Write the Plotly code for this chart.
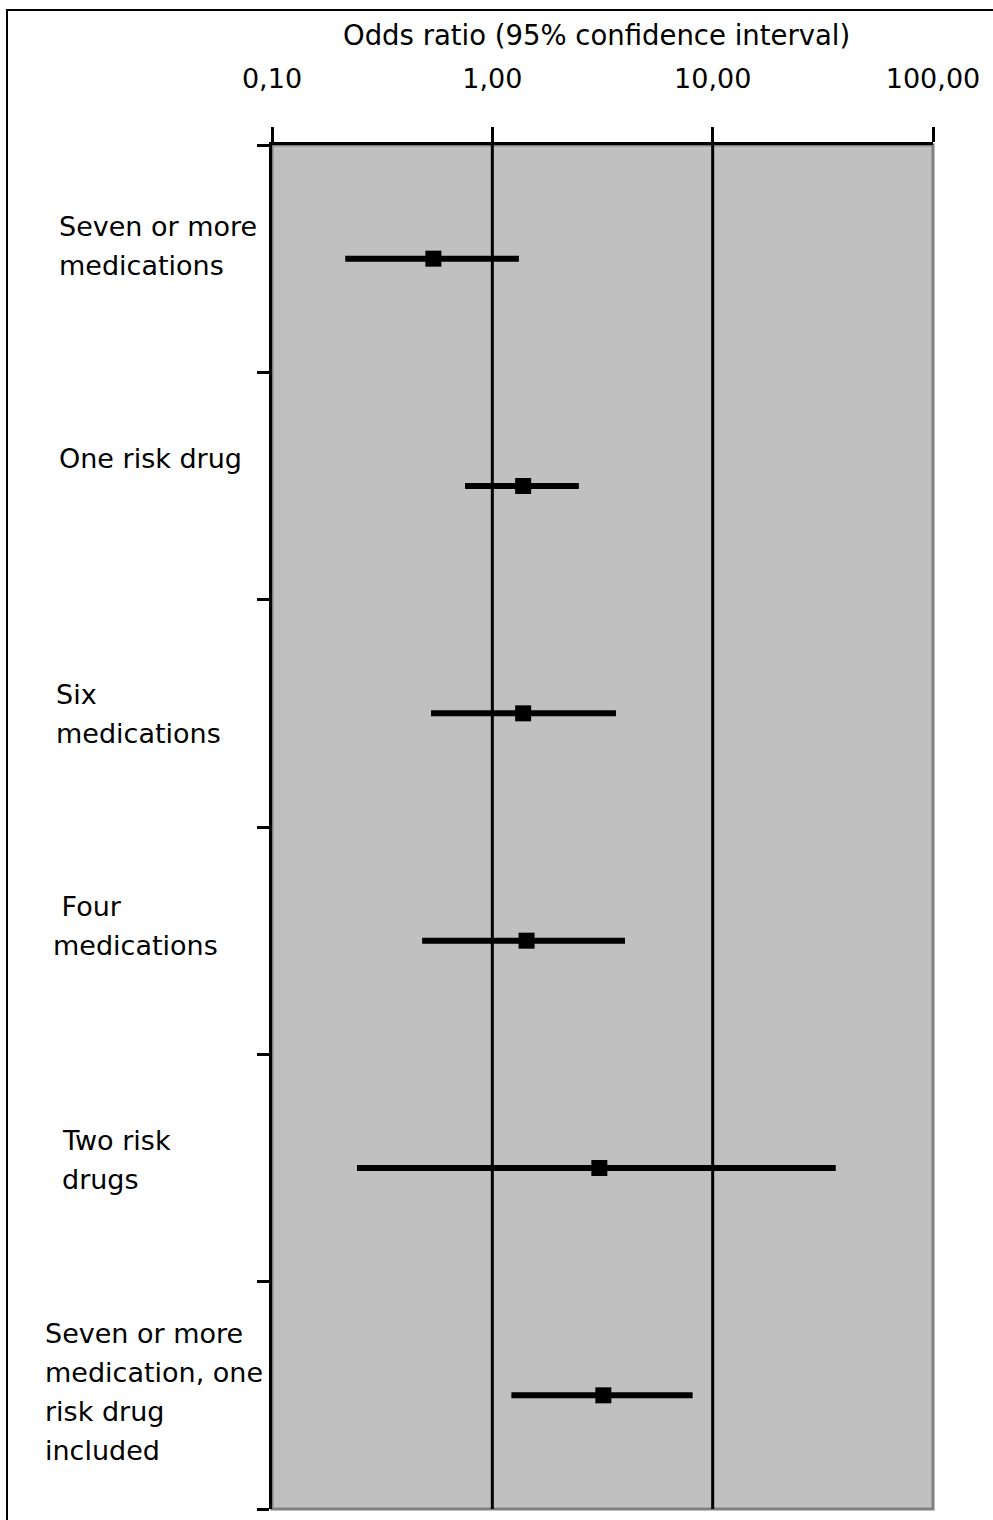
import plotly.graph_objects as go

# ---- data ----
categories = [
    "Seven or more medications",
    "One risk drug",
    "Six medications",
    "Four medications",
    "Two risk drugs",
    "Seven or more medication, one risk drug included",
]
label_lines = [
    ["Seven or more", "medications"],
    ["One risk drug"],
    ["Six", "medications"],
    ["\u00a0Four", "medications"],
    ["Two risk", "drugs"],
    ["Seven or more", "medication, one", "risk drug", "included"],
]
odds_ratio = [0.54, 1.38, 1.38, 1.43, 3.06, 3.19]
ci_low = [0.215, 0.752, 0.527, 0.480, 0.243, 1.22]
ci_high = [1.32, 2.47, 3.64, 4.00, 36.2, 8.11]
tick_vals = [0.1, 1, 10, 100]
tick_text = ["0,10", "1,00", "10,00", "100,00"]
ref_lines = [1, 10]

# ---- layout helpers ----
W, H = 993, 1520
ML, MR, MT, MB = 272, 60, 145, 11
PW, PH = W - ML - MR, H - MT - MB
FONT = "DejaVu Sans"
FS = 27

n = len(categories)
row_y = [n - i - 0.5 for i in range(n)]

label_x_px = [57, 57, 54, 51, 60, 43]
first_line_offset = [-32.5, -28, -19, -34.5, -28, -61.5]
line_gap = 39

fig = go.Figure()
fig.add_trace(go.Scatter(
    x=odds_ratio,
    y=row_y,
    mode="markers",
    marker=dict(symbol="square", size=16, color="black"),
    error_x=dict(
        type="data",
        symmetric=False,
        array=[h - o for h, o in zip(ci_high, odds_ratio)],
        arrayminus=[o - l for o, l in zip(odds_ratio, ci_low)],
        thickness=6,
        width=0,
        color="black",
    ),
    hovertext=categories,
    showlegend=False,
))

shapes = []
# plot area gray border
shapes.append(dict(type="rect", xref="paper", yref="paper", x0=0, x1=1, y0=0, y1=1,
                   line=dict(color="#808080", width=3), layer="below"))
# vertical reference lines
for v in ref_lines:
    shapes.append(dict(type="line", xref="x", yref="paper", x0=v, x1=v, y0=0, y1=1,
                       line=dict(color="black", width=3), layer="below"))
# outer frame
shapes.append(dict(type="rect", xref="paper", yref="paper",
                   x0=(7 - ML) / PW, x1=(W + 20 - ML) / PW,
                   y0=-(H + 20 - MT - PH) / PH, y1=1 + (MT - 10) / PH,
                   line=dict(color="black", width=2)))

annotations = []
annotations.append(dict(text="Odds ratio (95% confidence interval)", xref="paper", yref="paper",
                        x=(596 - ML) / PW, y=1 + (MT - 35) / PH, xanchor="center", yanchor="middle",
                        showarrow=False, font=dict(family=FONT, size=FS + 0.5, color="black")))
for i, lines in enumerate(label_lines):
    for j, t in enumerate(lines):
        annotations.append(dict(
            text=t, xref="paper", yref="y",
            x=(label_x_px[i] - ML) / PW, y=row_y[i],
            yshift=-(first_line_offset[i] + j * line_gap),
            xanchor="left", yanchor="middle", showarrow=False,
            font=dict(family=FONT, size=FS, color="black"),
        ))

fig.update_layout(
    width=W, height=H,
    margin=dict(l=ML, r=MR, t=MT, b=MB, pad=0),
    paper_bgcolor="white",
    plot_bgcolor="#C0C0C0",
    shapes=shapes,
    annotations=annotations,
    xaxis=dict(
        type="log", range=[-1, 2], side="top",
        tickvals=tick_vals, ticktext=tick_text,
        ticks="outside", ticklen=15, tickwidth=3, tickcolor="black",
        showline=True, linecolor="black", linewidth=3,
        showgrid=False, zeroline=False,
        tickfont=dict(family=FONT, size=FS, color="black"),
        ticklabelstandoff=28,
    ),
    yaxis=dict(
        range=[0, n],
        tickvals=list(range(n + 1)),
        showticklabels=False,
        ticks="outside", ticklen=12, tickwidth=3, tickcolor="black",
        showline=True, linecolor="black", linewidth=3,
        showgrid=False, zeroline=False,
    ),
)

fig.write_html(
    "out.html",
    config={"displayModeBar": False},
    post_script="document.body.style.margin='0';document.body.style.overflow='hidden';",
)
